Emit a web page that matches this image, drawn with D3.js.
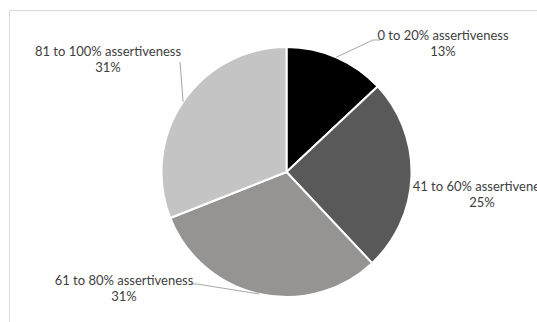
<!DOCTYPE html>
<html lang="en">
  <head>
    <meta charset="UTF-8" />
    <title>assertiveness pie</title>
    <script src="https://d3js.org/d3.v7.min.js" charset="utf-8"></script>
    <style>
      body { margin: 0; background: #fff; }
      text { font-family: Lato, "Open Sans", sans-serif; font-size: 13px; fill: #404040; }
    </style>
  </head>
  <body>
    <svg class="chart"></svg>
    <script>
      let categories = [
        "0 to 20% assertiveness",
        "41 to 60% assertiveness",
        "61 to 80% assertiveness",
        "81 to 100% assertiveness"
      ];
      let values = [13, 25, 31, 31];
      let percentLabels = ["13%", "25%", "31%", "31%"];

      let width = 537;
      let height = 322;
      let cx = 286.5, cy = 172, radius = 125;

      // where each label block sits (centre x, first baseline y) and its leader bend
      let labelPos = [[443, 40], [482, 191], [124, 285], [108, 56]];
      let bends = [[[373, 40], [380, 40]], null, [[197, 284], [191, 284]], [[180, 62], [180, 62]]];

      let color = d3.scaleOrdinal()
        .domain(categories)
        .range(["#000000", "#595959", "#969492", "#c5c4c4"]);

      let svg = d3.select(".chart")
        .attr("width", width)
        .attr("height", height);

      // chart area frame
      svg.append("path")
        .attr("d", "M9.5," + height + "V10.5H" + width)
        .attr("fill", "none")
        .attr("stroke", "#d9d9d9")
        .attr("stroke-width", 1);

      let pie = d3.pie().sort(null).value(d => d);
      let arcs = pie(values);
      let arc = d3.arc().innerRadius(0).outerRadius(radius);
      let edge = d3.arc().innerRadius(radius).outerRadius(radius);

      let g = svg.append("g").attr("transform", "translate(" + cx + "," + cy + ")");

      g.selectAll("path.slice")
        .data(arcs)
        .enter()
        .append("path")
        .attr("class", "slice")
        .attr("d", arc)
        .attr("fill", (d, i) => color(categories[i]))
        .attr("stroke", "#fff")
        .attr("stroke-width", 2)
        .attr("stroke-linejoin", "round");

      // leader lines
      arcs.forEach(function(d, i) {
        if (!bends[i]) return;
        let p = edge.centroid(d);
        let pts = [[p[0] + cx, p[1] + cy]].concat(bends[i]);
        svg.append("path")
          .attr("d", d3.line()(pts))
          .attr("fill", "none")
          .attr("stroke", "#a6a6a6")
          .attr("stroke-width", 1);
      });

      let labels = svg.selectAll("text.lbl")
        .data(arcs)
        .enter()
        .append("text")
        .attr("class", "lbl")
        .attr("text-anchor", "middle")
        .attr("x", (d, i) => labelPos[i][0])
        .attr("y", (d, i) => labelPos[i][1]);

      labels.append("tspan")
        .attr("x", (d, i) => labelPos[i][0])
        .text((d, i) => categories[i]);

      labels.append("tspan")
        .attr("x", (d, i) => labelPos[i][0])
        .attr("dy", 16)
        .text((d, i) => percentLabels[i]);
    </script>
  </body>
</html>
